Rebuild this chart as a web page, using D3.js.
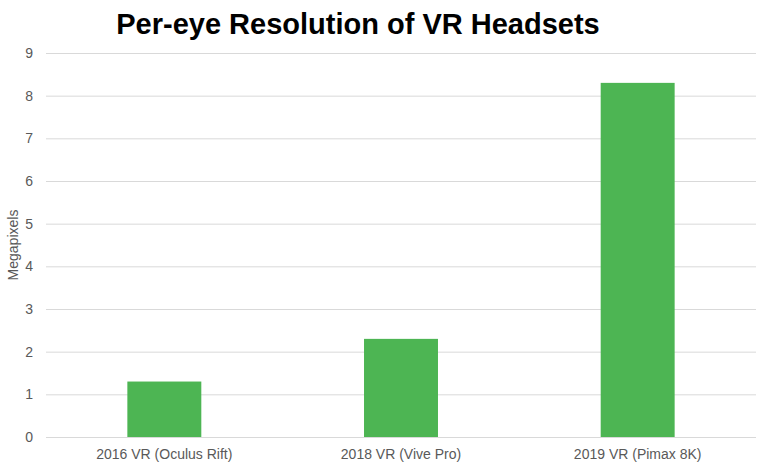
<!DOCTYPE html>
<html><head><meta charset="utf-8">
<script src="https://cdn.jsdelivr.net/npm/d3@7"></script>
<style>body{margin:0;background:#fff}svg{display:block}</style>
</head><body>
<svg id="c" width="760" height="466"></svg>
<script>
const categories = ["2016 VR (Oculus Rift)", "2018 VR (Vive Pro)", "2019 VR (Pimax 8K)"];
const values = [1.3, 2.3, 8.3];
const yTicks = [0,1,2,3,4,5,6,7,8,9];
const title = "Per-eye Resolution of VR Headsets";
const yTitle = "Megapixels";

const svg = d3.select("#c");
const m = {l:46, r:4, t:53, b:29};
const W = 760, H = 466;
const x = d3.scaleBand().domain(categories).range([m.l, W-m.r]).paddingInner(0.6875).paddingOuter(0.34375);
const y = d3.scaleLinear().domain([0,9]).range([H-m.b, m.t]);
const font = "'Liberation Sans', Arial, sans-serif";

svg.append("g").selectAll("line").data(yTicks).join("line")
  .attr("x1", m.l).attr("x2", W-m.r)
  .attr("y1", d=>y(d)+0.5).attr("y2", d=>y(d)+0.5)
  .attr("stroke", "#d9d9d9").attr("stroke-width", 1);

svg.append("g").selectAll("text").data(yTicks).join("text")
  .attr("x", 33).attr("y", d=>y(d)).attr("dy", "0.35em")
  .attr("text-anchor", "end").attr("fill", "#595959")
  .style("font", "14px " + font).text(d=>d);

svg.append("g").selectAll("rect").data(values).join("rect")
  .attr("x", (d,i)=>x(categories[i])).attr("width", x.bandwidth())
  .attr("y", d=>y(d)).attr("height", d=>y(0)-y(d))
  .attr("fill", "#4db553");

svg.append("g").selectAll("text").data(categories).join("text")
  .attr("x", d=>x(d)+x.bandwidth()/2).attr("y", 459)
  .attr("text-anchor", "middle").attr("fill", "#595959")
  .style("font", "14px " + font).text(d=>d);

svg.append("text").attr("transform", "translate(18,245) rotate(-90)")
  .attr("text-anchor", "middle").attr("fill", "#595959")
  .style("font", "14px " + font).text(yTitle);

svg.append("text").attr("x", 358).attr("y", 34).attr("text-anchor", "middle")
  .attr("fill", "#000").style("font", "bold 29px " + font).text(title);
</script>
</body></html>
